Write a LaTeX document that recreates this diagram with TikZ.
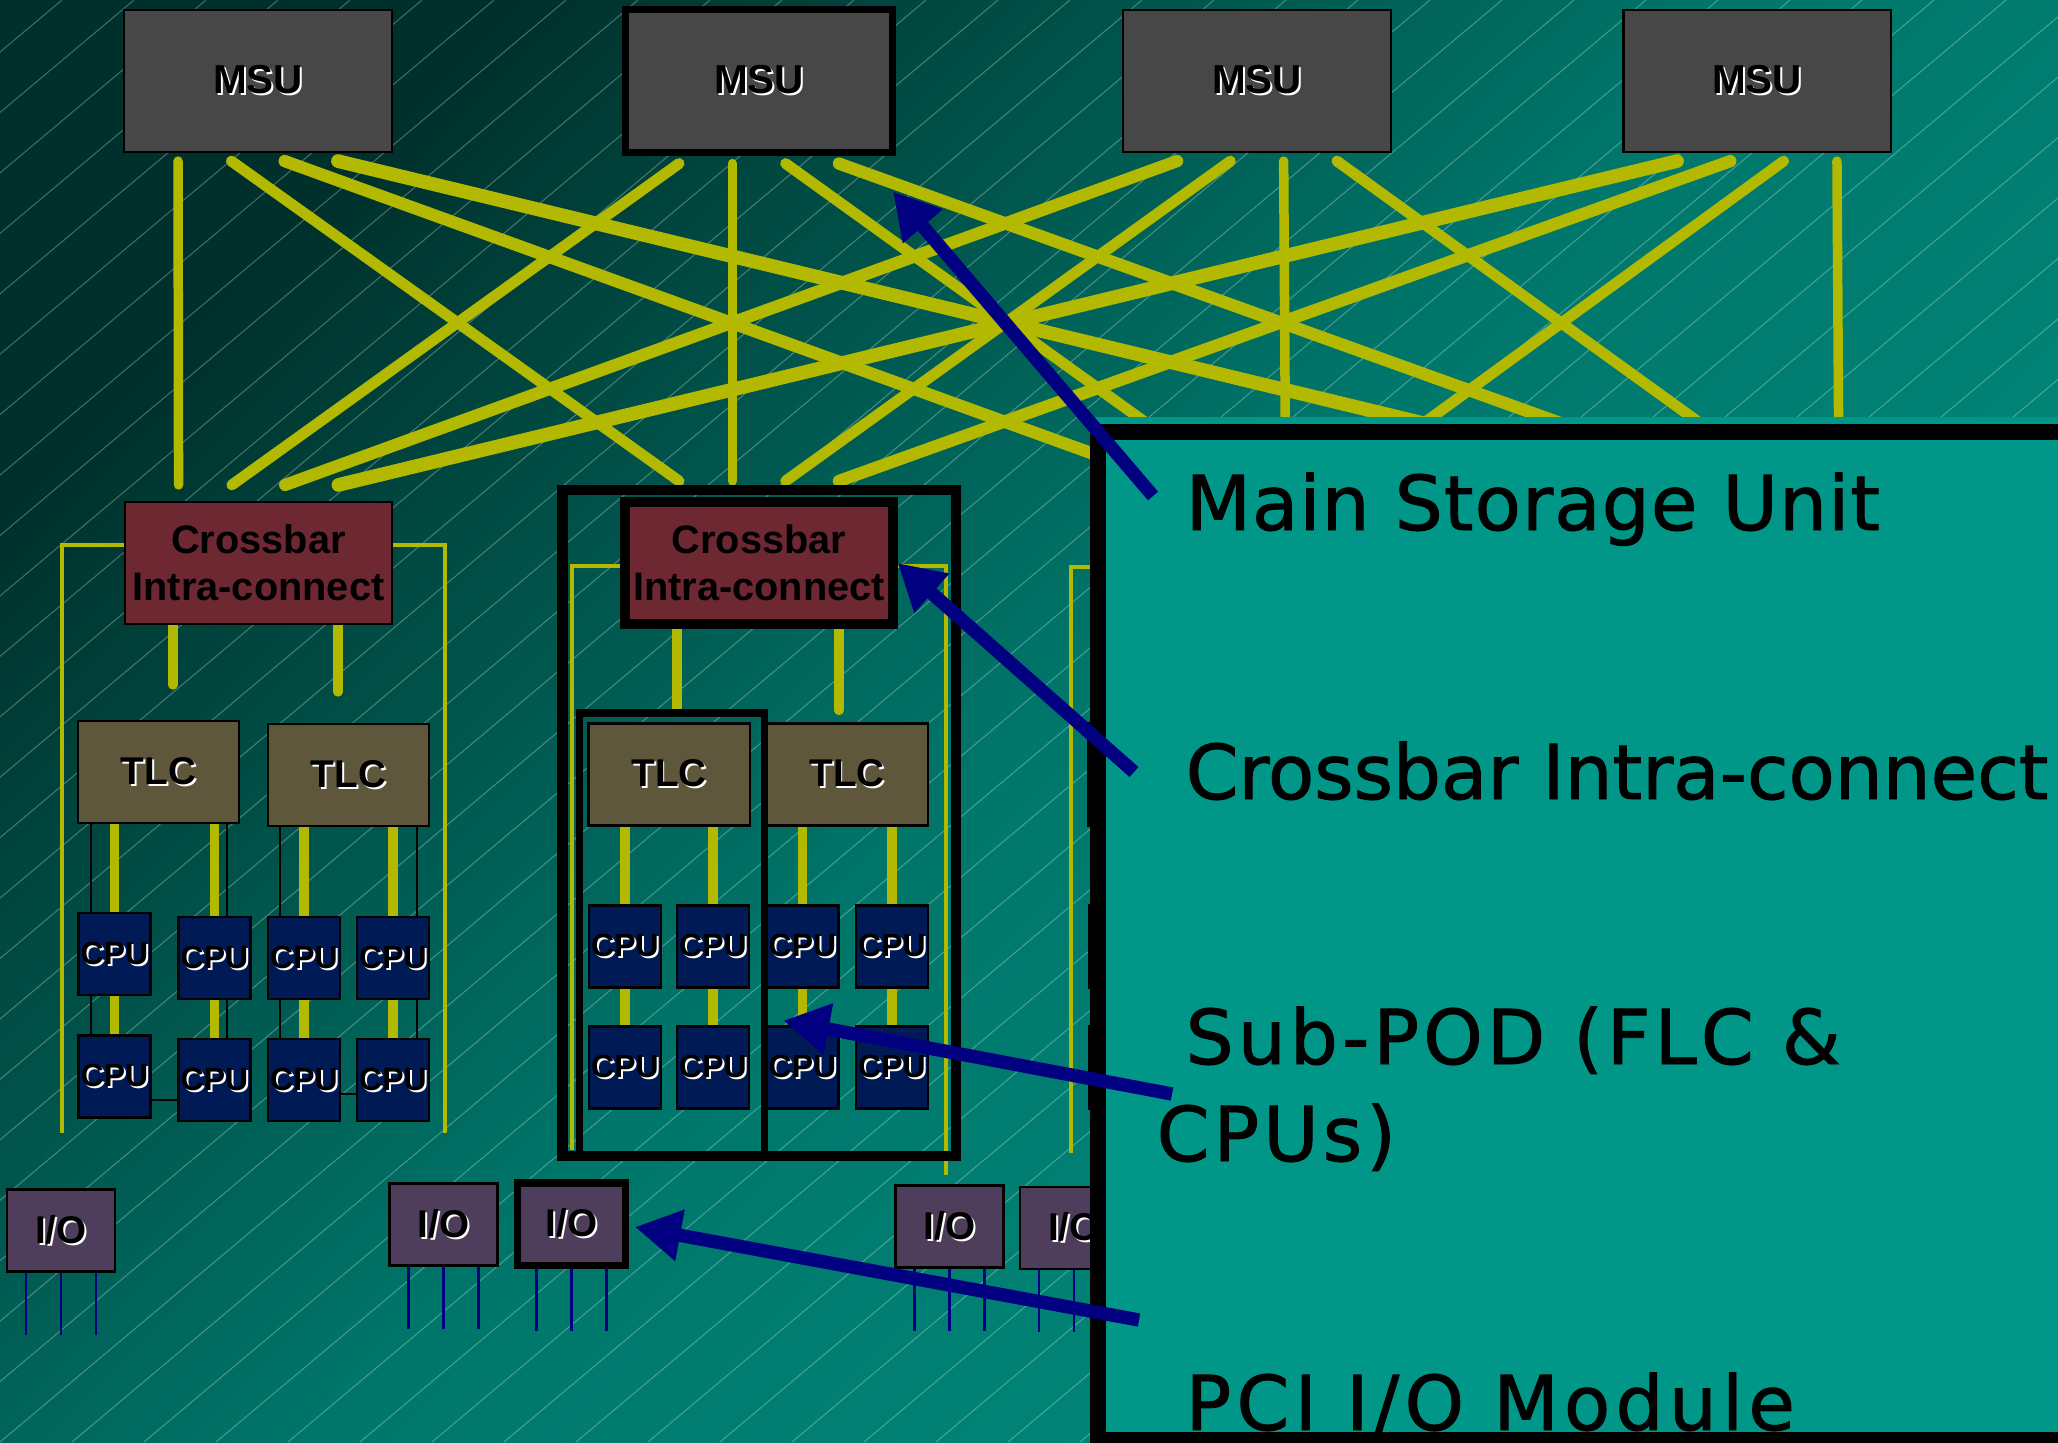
\documentclass[tikz,border=0pt]{standalone}
\usepackage{fontspec}
\setmainfont{Liberation Sans}
\newfontfamily\notefont[FakeBold=1.2]{DejaVu Sans}
\usetikzlibrary{calc,arrows.meta,backgrounds}
\definecolor{bgdark}{HTML}{00302B}
\definecolor{bgmid}{HTML}{00766A}
\definecolor{bglight}{HTML}{008C7E}
\definecolor{bus}{HTML}{B3B800}
\definecolor{msugray}{HTML}{474747}
\definecolor{xbarred}{HTML}{6E2832}
\definecolor{tlcolive}{HTML}{5E573B}
\definecolor{cpublue}{HTML}{001A55}
\definecolor{iopurple}{HTML}{4F3E5B}
\definecolor{navy}{HTML}{000080}
\definecolor{notecyan}{HTML}{009688}
\newcommand{\embossed}[1]{\rlap{\kern0.55pt\raisebox{-0.55pt}{\color{white}#1}}#1}
\newcommand{\spaced}[2]{{\addfontfeatures{LetterSpace=#1}#2}}

\begin{document}
\begin{tikzpicture}[x=0.01cm,y=-0.01cm,
  plain/.style={},
  box/.style={draw=black,line width=0.6pt,inner sep=0pt},
  msu/.style={box,fill=msugray,minimum width=2.67cm,minimum height=1.42cm,font=\bfseries\fontsize{11.5}{12}\selectfont},
  xbar/.style={box,fill=xbarred,minimum width=2.67cm,minimum height=1.22cm,align=center,font=\bfseries\fontsize{11.3}{13.4}\selectfont},
  tlc/.style={box,fill=tlcolive,minimum width=1.61cm,minimum height=1.02cm,font=\bfseries\fontsize{11}{12}\selectfont},
  cpu/.style={box,fill=cpublue,minimum width=0.72cm,minimum height=0.82cm,font=\bfseries\fontsize{9.1}{10}\selectfont},
  iobox/.style={box,fill=iopurple,minimum width=1.08cm,minimum height=0.82cm,font=\bfseries\fontsize{11}{12}\selectfont},
  marked/.style={line width=2pt},
  hilite/.style={line width=2.85pt},
  link/.style={draw=bus,line cap=round},
  frame/.style={draw=bus,line width=1.3pt},
  wire/.style={draw=black,line width=0.45pt},
  pin/.style={draw=navy,line width=0.8pt},
  pointer/.style={draw=navy,line width=3.8pt,-{Triangle[length=13pt,width=14pt]}},
  note/.style={anchor=base west,inner sep=0pt,font=\notefont\fontsize{21.5}{26}\selectfont}]
  \useasboundingbox (0,0) rectangle (2058,1442);

  \foreach \i/\x/\s in {1/258/plain,2/759/marked,3/1257/plain,4/1757/plain}
    \node[msu,\s] (msu\i) at (\x,81) {\embossed{MSU}};
  \foreach \i/\x/\s in {1/258.5/plain,2/759/hilite,3/1259/plain,4/1759/plain}
    \node[xbar,\s] (xbar\i) at (\x,563) {Crossbar\\Intra-connect};

  \node[tlc] (tlc1a) at (158.5,772) {\embossed{TLC}};
  \node[tlc] (tlc1b) at (348.5,775) {\embossed{TLC}};
  \foreach \c/\x/\yu/\yl in {1/114.5/954/1076.5,2/214.5/958/1080,3/304/958/1080,4/393/958/1080} {
    \node[cpu] (cpu1\c u) at (\x,\yu) {\embossed{CPU}};
    \node[cpu] (cpu1\c l) at (\x,\yl) {\embossed{CPU}};
  }
  \foreach \p/\dx in {2/0,3/500} {
    \node[tlc] (tlc\p a) at (669+\dx,774.5) {\embossed{TLC}};
    \node[tlc] (tlc\p b) at (847+\dx,774.5) {\embossed{TLC}};
    \foreach \c/\x in {1/625,2/713,3/802.5,4/892} {
      \node[cpu] (cpu\p\c u) at (\x+\dx,946.5) {\embossed{CPU}};
      \node[cpu] (cpu\p\c l) at (\x+\dx,1067.5) {\embossed{CPU}};
    }
  }

  \foreach \n/\x/\y/\s in {1/61/1230.5/plain,2/443.5/1224.5/plain,3/571.5/1224/marked,4/949.5/1226.5/plain,5/1074/1228/plain} {
    \node[iobox,\s] (io\n) at (\x,\y) {\embossed{I/O}};
    \foreach \dx in {-35,0,35}
      \draw[pin] ($(io\n.south)+(\dx,0)$) -- ++(0,62);
  }

  \begin{scope}[on background layer]
    \shade[top color=bgdark,bottom color=bglight,middle color=bgmid,shading angle=45] (0,0) rectangle (2058,1442);
    \clip (0,0) rectangle (2058,1442);
    \foreach \k in {-24,...,29}
      \draw[white,opacity=0.28,line width=0.3pt] (\k*72,1442) -- ++(1718,-1442);
  \end{scope}

  \begin{scope}[on background layer]
    \foreach \i in {1,...,4}
      \foreach \j in {1,...,4} {
        \pgfmathsetmacro\lw{2.7+0.4*abs(\i-\j)}
        \draw[link,line width=\lw pt] ($(msu\i.south)+({53.3*(\j-2.5)},8)$) -- ($(xbar\j.north)+({53.3*(\i-2.5)},-16)$);
      }
    \draw[frame] (62,1133) -- (62,545) -- (445,545) -- (445,1133);
    \draw[frame] (572,1150) -- (572,566) -- (946,566) -- (946,1175);
    \draw[frame] (1071,1153) -- (1071,567) -- (1446,567) -- (1446,1175);
    \draw[link,line width=2.7pt] ($(xbar1.south)+(-85.5,0)$) -- ($(tlc1a.north)+(14.5,-35)$);
    \draw[link,line width=2.7pt] ($(xbar1.south)+(79.5,0)$) -- ($(tlc1b.north)+(-10.5,-31)$);
    \foreach \p in {2,3} {
      \draw[link,line width=2.7pt] ($(xbar\p.south)+(-82,0)$) -- ($(tlc\p a.north)+(8,-13)$);
      \draw[link,line width=2.7pt] ($(xbar\p.south)+(80,0)$) -- ($(tlc\p b.north)+(-8,-12)$);
    }
    \foreach \p in {1,2,3}
      \foreach \c/\t in {1/a,2/a,3/b,4/b}
        \draw[link,line width=2.8pt,line cap=butt] (tlc\p\t.south -| cpu\p\c u) -- (cpu\p\c l.north);
    \draw[wire] ($(tlc1a.south west)+(14,0)$) -- ($(tlc1a.south west |- cpu11l.north)+(14,0)$);
    \draw[wire] ($(tlc1a.south east)+(-13,0)$) -- ($(tlc1a.south east |- cpu12l.north)+(-13,0)$);
    \draw[wire] ($(tlc1b.south west)+(13,0)$) -- ($(tlc1b.south west |- cpu13l.north)+(13,0)$);
    \draw[wire] ($(tlc1b.south east)+(-13,0)$) -- ($(tlc1b.south east |- cpu14l.north)+(-13,0)$);
    \draw[wire] ($(cpu11l.east)+(0,23.5)$) -- ($(cpu12l.west)+(0,20)$);
    \draw[wire] ($(cpu13l.east)+(0,14)$) -- ($(cpu14l.west)+(0,14)$);
  \end{scope}

  \draw[line width=2.85pt] (562.5,490) rectangle (956,1156);
  \draw[line width=2pt] (579.5,713) rectangle (764.5,1156);

  \fill[notecyan] (1090,417) rectangle (2058,1442);
  \node[note] (notemsu) at (1185,530) {\spaced{1.5}{Main Storage Unit}};
  \node[note] (notexbar) at (1185,799) {Crossbar Intra-connect};
  \node[note] (notepod) at (1185,1064) {\spaced{5.5}{Sub-POD (FLC \&}};
  \node[note] (notepodb) at (1156,1161) {\spaced{5.5}{CPUs)}};
  \node[note] (noteio) at (1185,1430) {\spaced{7}{PCI I/O Module}};
  \draw[line width=4.55pt] (2070,432) -- (1098,432) -- (1098,1440) -- (2070,1440);

  \coordinate (tail1) at (1153,496);
  \coordinate (tail2) at (1134,772);
  \coordinate (tail3) at (1172,1094);
  \coordinate (tail4) at (1139,1320);
  \draw[pointer] (tail1) -- ($(msu2.south east)+(-3,36)$);
  \draw[pointer] (tail2) -- (xbar2.east);
  \draw[pointer] (tail3) -- ($(cpu23u.south west)+(18,32)$);
  \draw[pointer] (tail4) -- ($(io3.east)+(6,3)$);
\end{tikzpicture}
\end{document}
